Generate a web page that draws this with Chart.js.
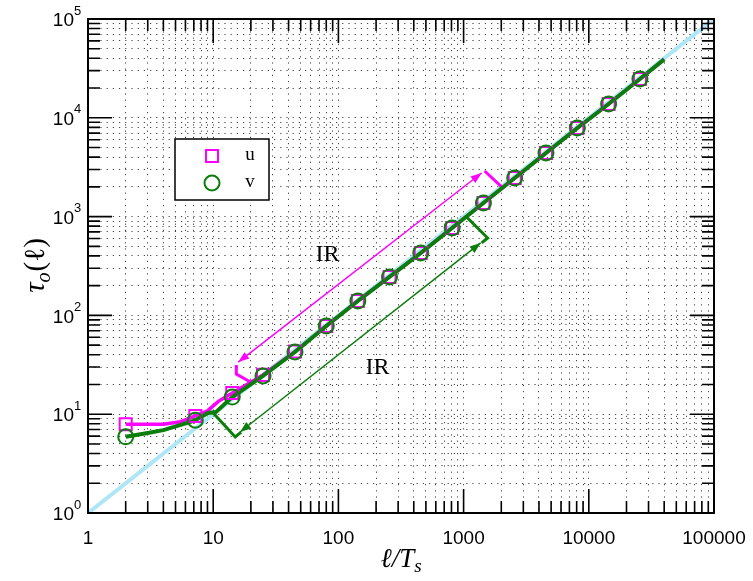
<!DOCTYPE html>
<html>
<head>
<meta charset="utf-8">
<script src="https://cdn.jsdelivr.net/npm/chart.js@4.4.0/dist/chart.umd.min.js"></script>
<style>
  body { margin: 0; background: #fff; }
  canvas { display: block; }
</style>
</head>
<body>
<canvas id="chart" width="753" height="581"></canvas>
<script>
// ==========================
// DATA
// ==========================
const markX = [2, 7.2, 14.2, 25, 45, 80, 143, 256, 455, 810, 1440, 2560, 4550, 8100, 14400, 25600];
const markU = [7.9, 9.6, 16.4, 25, 43, 78, 140, 245, 428, 767, 1373, 2457, 4400, 7880, 13800, 24700];
const markV = [5.9, 8.7, 14.9, 24.4, 42.6, 78, 140, 245, 428, 767, 1373, 2457, 4400, 7880, 13800, 24700];

const curveUX = [2, 4, 5.5, 7.2, 9, 11, 14.2, 18, 25, 45, 80, 143, 256, 455, 810, 1440, 2560, 4550, 8100, 14400, 25600, 40000];
const curveUY = [7.9, 7.9, 8.4, 9.6, 10.8, 13.5, 16.4, 19.5, 25, 43, 78, 140, 245, 428, 767, 1373, 2457, 4400, 7880, 13800, 24700, 39000];
const curveVX = [2, 3, 4, 6.5, 7.2, 9.1, 10.5, 14.2, 25, 45, 80, 143, 256, 455, 810, 1440, 2560, 4550, 8100, 14400, 25600, 40000];
const curveVY = [5.9, 6.45, 6.9, 8.3, 8.7, 10.3, 10.5, 14.9, 24.4, 42.6, 78, 140, 245, 428, 767, 1373, 2457, 4400, 7880, 13800, 24700, 39000];

const refX = [1, 100000];
const refY = [1, 100000];

// inertial range arrows and brackets
const magArrowX = [15.85, 1393];
const magArrowY = [33.7, 2762];
const magTopX = [1472, 2014];
const magTopY = [2896, 1995];
const magLowX = [15.3, 15.3, 20.5];
const magLowY = [31.5, 25.5, 20.7];

const grnArrowX = [16.4, 1368];
const grnArrowY = [6.6, 541];
const grnTopX = [1057, 1556, 1393];
const grnTopY = [991, 607, 541];
const grnLowX = [10, 15.0, 16.7];
const grnLowY = [10.3, 5.88, 6.6];

const irLabels = ['IR', 'IR'];
const irX = [82, 205];
const irY = [408, 29.4];

// axes
const xTickVals = [1, 10, 100, 1000, 10000, 100000];
const xTickLabels = ['1', '10', '100', '1000', '10000', '100000'];
const yTickVals = [1, 10, 100, 1000, 10000, 100000];
const yTickExp = ['0', '1', '2', '3', '4', '5'];

const legendNames = ['u', 'v'];

// minor grid positions 1..9 x 10^k
const gridVals = [];
for (let k = 0; k < 5; k++) {
    for (let m = 1; m < 10; m++) gridVals.push(m * Math.pow(10, k));
}
gridVals.push(100000);

const MAG = '#ff00ff';
const GRN = '#0a7d0a';
const SKY = '#aee6f6';

const pts = (xs, ys) => xs.map((x, i) => ({ x: x, y: ys[i] }));

function lineSet(xs, ys, color, width) {
    return {
        data: pts(xs, ys),
        borderColor: color,
        borderWidth: width,
        pointRadius: 0,
        fill: false,
        tension: 0
    };
}

// ==========================
// PLUGINS
// ==========================
function arrowHead(ctx, tx, ty, fx, fy, color) {
    const a = Math.atan2(ty - fy, tx - fx);
    const len = 11, hw = 4;
    ctx.save();
    ctx.fillStyle = color;
    ctx.beginPath();
    ctx.moveTo(tx, ty);
    ctx.lineTo(tx - len * Math.cos(a) + hw * Math.sin(a), ty - len * Math.sin(a) - hw * Math.cos(a));
    ctx.lineTo(tx - len * Math.cos(a) - hw * Math.sin(a), ty - len * Math.sin(a) + hw * Math.cos(a));
    ctx.closePath();
    ctx.fill();
    ctx.restore();
}

const decorPlugin = {
    id: 'decor',
    afterDatasetsDraw(chart) {
        const ctx = chart.ctx;
        const xs = chart.scales.x, ys = chart.scales.y;
        const P = (x, y) => [xs.getPixelForValue(x), ys.getPixelForValue(y)];

        // arrow heads at both ends
        [[magArrowX, magArrowY, MAG], [grnArrowX, grnArrowY, GRN]].forEach(([ax, ay, c]) => {
            const a = P(ax[0], ay[0]), b = P(ax[1], ay[1]);
            arrowHead(ctx, a[0], a[1], b[0], b[1], c);
            arrowHead(ctx, b[0], b[1], a[0], a[1], c);
        });

        // IR labels
        ctx.save();
        ctx.fillStyle = '#000';
        ctx.font = '24px "Liberation Serif", "DejaVu Serif", serif';
        ctx.textAlign = 'center';
        ctx.textBaseline = 'middle';
        irLabels.forEach((t, i) => {
            const p = P(irX[i], irY[i]);
            ctx.fillText(t, p[0], p[1]);
        });
        ctx.restore();

        // legend box
        const area = chart.chartArea;
        const lx = area.left + 87, ly = area.top + 120, lw = 94, lh = 61;
        ctx.save();
        ctx.fillStyle = '#fff';
        ctx.fillRect(lx, ly, lw, lh);
        ctx.strokeStyle = '#000';
        ctx.lineWidth = 1.5;
        ctx.strokeRect(lx, ly, lw, lh);
        ctx.lineWidth = 2;
        ctx.strokeStyle = MAG;
        ctx.strokeRect(lx + 31, ly + 11, 12, 12);
        ctx.strokeStyle = GRN;
        ctx.beginPath();
        ctx.arc(lx + 37, ly + 44, 7.5, 0, Math.PI * 2);
        ctx.stroke();
        ctx.fillStyle = '#000';
        ctx.font = '19px "Liberation Serif", "DejaVu Serif", serif';
        ctx.textAlign = 'center';
        ctx.textBaseline = 'middle';
        ctx.fillText(legendNames[0], lx + 75, ly + 16);
        ctx.fillText(legendNames[1], lx + 75, ly + 43);
        ctx.restore();
    },
    afterDraw(chart) {
        const ctx = chart.ctx;
        const xs = chart.scales.x, ys = chart.scales.y;
        const { left, right, top, bottom } = chart.chartArea;

        ctx.save();
        // inward ticks on all four sides
        ctx.strokeStyle = '#000';
        ctx.lineWidth = 1.6;
        gridVals.forEach(v => {
            const major = Math.abs(Math.log10(v) - Math.round(Math.log10(v))) < 1e-9;
            const len = major ? 24 : 12;
            const px = xs.getPixelForValue(v);
            const py = ys.getPixelForValue(v);
            ctx.beginPath();
            ctx.moveTo(px, bottom); ctx.lineTo(px, bottom - len);
            ctx.moveTo(px, top); ctx.lineTo(px, top + len);
            ctx.moveTo(left, py); ctx.lineTo(left + len, py);
            ctx.moveTo(right, py); ctx.lineTo(right - len, py);
            ctx.stroke();
        });
        // frame
        ctx.lineWidth = 2;
        ctx.strokeRect(left, top, right - left, bottom - top);

        // tick labels
        ctx.fillStyle = '#000';
        ctx.font = '19px "Liberation Sans", Arial, sans-serif';
        ctx.textAlign = 'center';
        ctx.textBaseline = 'top';
        xTickVals.forEach((v, i) => ctx.fillText(xTickLabels[i], xs.getPixelForValue(v), bottom + 16));

        yTickVals.forEach((v, i) => {
            const py = ys.getPixelForValue(v);
            ctx.font = '19px "Liberation Sans", Arial, sans-serif';
            ctx.textAlign = 'right';
            ctx.textBaseline = 'middle';
            ctx.fillText('10', left - 14, py + 2);
            ctx.font = '13px "Liberation Sans", Arial, sans-serif';
            ctx.textAlign = 'left';
            ctx.fillText(yTickExp[i], left - 14, py - 8);
        });

        // axis titles
        const it = '"Liberation Serif", "DejaVu Serif", serif';
        // x: l/T_s
        ctx.textAlign = 'left';
        ctx.textBaseline = 'alphabetic';
        ctx.font = 'italic 27px ' + it;
        const w1 = ctx.measureText('ℓ/T').width;
        ctx.font = 'italic 19px ' + it;
        const w2 = ctx.measureText('s').width;
        let x0 = (left + right) / 2 - (w1 + w2) / 2;
        ctx.font = 'italic 27px ' + it;
        ctx.fillText('ℓ/T', x0, 567);
        ctx.font = 'italic 19px ' + it;
        ctx.fillText('s', x0 + w1, 572);

        // y: tau_o(l)
        ctx.translate(44, (top + bottom) / 2);
        ctx.rotate(-Math.PI / 2);
        ctx.font = 'italic 29px ' + it;
        const a1 = ctx.measureText('τ').width;
        ctx.font = 'italic 20px ' + it;
        const a2 = ctx.measureText('o').width;
        ctx.font = '29px ' + it;
        const a3 = ctx.measureText('(ℓ)').width;
        let s = -(a1 + a2 + a3) / 2;
        ctx.font = 'italic 29px ' + it;
        ctx.fillText('τ', s, 0);
        ctx.font = 'italic 20px ' + it;
        ctx.fillText('o', s + a1, 6);
        ctx.font = '29px ' + it;
        ctx.fillText('(ℓ)', s + a1 + a2 + 1, 0);
        ctx.restore();
    }
};

// ==========================
// CHART
// ==========================
const ctx = document.getElementById('chart');

new Chart(ctx, {
    type: 'line',
    data: {
        datasets: [
            {
                data: pts(markX, markV),
                showLine: false,
                pointStyle: 'circle',
                pointRadius: 7.5,
                pointBorderWidth: 2,
                pointBorderColor: GRN,
                pointBackgroundColor: 'rgba(0,0,0,0)'
            },
            {
                data: pts(markX, markU),
                showLine: false,
                pointStyle: 'rect',
                pointRadius: 8.5,
                pointBorderWidth: 2,
                pointBorderColor: MAG,
                pointBackgroundColor: 'rgba(0,0,0,0)'
            },
            lineSet(curveVX, curveVY, GRN, 4),
            lineSet(curveUX, curveUY, MAG, 3.5),
            lineSet(magArrowX, magArrowY, MAG, 1.5),
            lineSet(magTopX, magTopY, MAG, 3),
            lineSet(magLowX, magLowY, MAG, 3),
            lineSet(grnArrowX, grnArrowY, GRN, 1.5),
            lineSet(grnTopX, grnTopY, GRN, 3),
            lineSet(grnLowX, grnLowY, GRN, 3),
            lineSet(refX, refY, SKY, 4)
        ]
    },
    options: {
        responsive: false,
        animation: false,
        layout: { padding: { left: 88, top: 19, right: 39, bottom: 68 } },
        plugins: { legend: { display: false }, tooltip: { enabled: false } },
        scales: {
            x: {
                type: 'logarithmic',
                min: 1,
                max: 100000,
                afterBuildTicks: axis => { axis.ticks = gridVals.map(v => ({ value: v })); },
                ticks: { display: false },
                grid: { color: '#444', lineWidth: 1, drawTicks: false },
                border: { display: false, dash: [1.2, 5] }
            },
            y: {
                type: 'logarithmic',
                min: 1,
                max: 100000,
                afterBuildTicks: axis => { axis.ticks = gridVals.map(v => ({ value: v })); },
                ticks: { display: false },
                grid: { color: '#444', lineWidth: 1, drawTicks: false },
                border: { display: false, dash: [1.2, 5] }
            }
        }
    },
    plugins: [decorPlugin]
});
</script>
</body>
</html>
